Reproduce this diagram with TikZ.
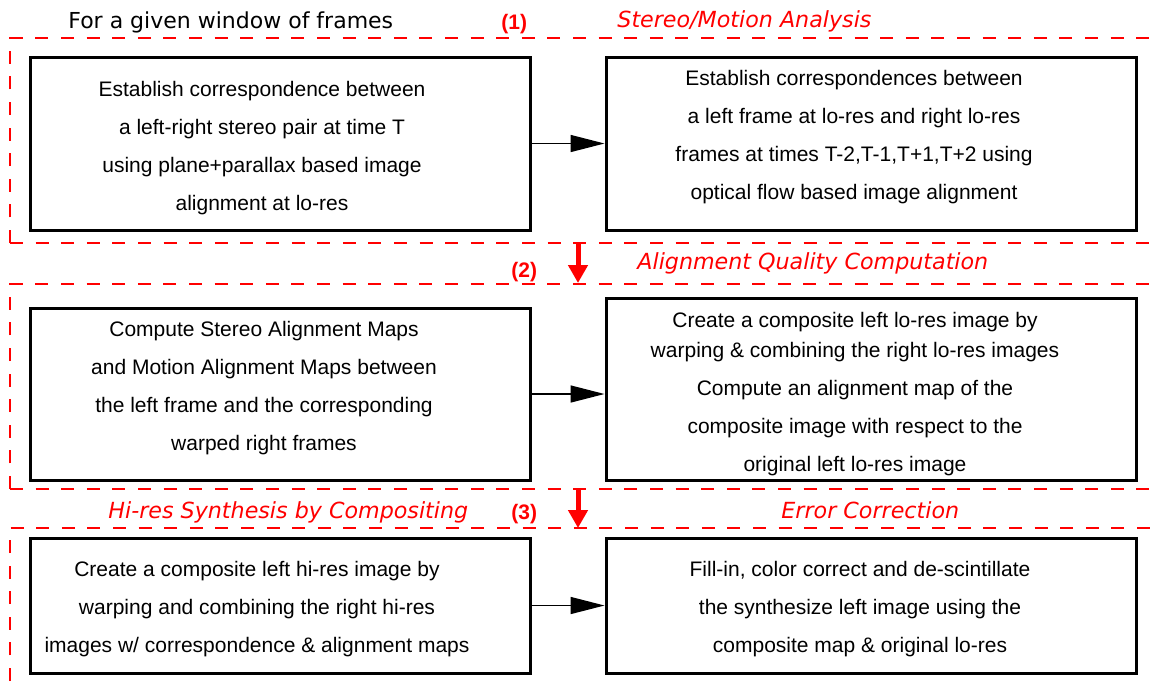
\documentclass[tikz,border=0pt]{standalone}
\usepackage{fontspec}
\setmainfont{Liberation Sans}
\newfontfamily\humfont{DejaVu Sans}
\usepackage{xcolor}
\usetikzlibrary{arrows.meta, positioning, fit}
\definecolor{framered}{RGB}{255,0,0}

\begin{document}
\begin{tikzpicture}[
  x=0.5pt, y=-0.5pt,
  procbox/.style={rectangle, draw=black, line width=1.5pt, inner sep=0pt},
  proctext/.style={align=center, font=\fontsize{10.5}{19}\selectfont, inner sep=0pt},
  frame/.style={draw=framered, line width=1pt, dash pattern=on 6.5pt off 6.3pt},
  arr/.style={-{Triangle[length=17pt, width=8.5pt]}, line width=0.75pt, draw=black},
  redarr/.style={-{Triangle[length=9pt, width=9.5pt]}, line width=2.5pt, draw=framered},
  stage/.style={font=\humfont\itshape\fontsize{11.1}{13}\selectfont, text=framered,
    inner sep=0pt, anchor=base west},
  num/.style={font=\bfseries\fontsize{10.5}{12}\selectfont, text=framered,
    inner sep=0pt, anchor=base west}
]
\useasboundingbox (0,0) rectangle (1151,681);

% dashed frames, open to the right
\draw[frame] (10,243) -- (10,38) -- (1151,38);
\draw[frame] (10,243) -- (1151,243);
\draw[frame] (10,489) -- (10,284) -- (1151,284);
\draw[frame] (10,489) -- (1151,489);
\draw[frame] (10,681) -- (10,528) -- (1151,528);

% headings
\node[inner sep=0pt, anchor=base west, font=\humfont\fontsize{11}{13}\selectfont]
  (title) at (68,28) {For a given window of frames};
\node[num] (n1) at (501,29) {(1)};
\node[stage] (h1) at (617,27) {Stereo/Motion Analysis};
\node[num] (n2) at (511,277) {(2)};
\node[stage] (h2) at (637,269) {Alignment Quality Computation};
\node[stage] (h3) at (108,518) {Hi-res Synthesis by Compositing};
\node[num] (n3) at (511,519) {(3)};
\node[stage] (h4) at (781,518) {Error Correction};

% process boxes
\node[procbox, fit={(30,57) (530,230)}] (stereo) {};
\node[procbox, fit={(606,57) (1136,230)}] (motion) {};
\node[procbox, fit={(30,308) (530,480)}] (maps) {};
\node[procbox, fit={(606,298) (1136,480)}] (compo) {};
\node[procbox, fit={(30,538) (530,673)}] (hires) {};
\node[procbox, fit={(606,538) (1136,673)}] (fixup) {};

\node[proctext] (t1) at (262,148)
  {Establish correspondence between\\
   a left-right stereo pair at time T\\
   using plane+parallax based image\\
   alignment at lo-res};
\node[proctext] (t2) at (854,137)
  {Establish correspondences between\\
   a left frame at lo-res and right lo-res\\
   frames at times T-2,T-1,T+1,T+2 using\\
   optical flow based image alignment};
\node[proctext] (t3) at (264,388)
  {Compute Stereo Alignment Maps\\
   and Motion Alignment Maps between\\
   the left frame and the corresponding\\
   warped right frames};
\node[proctext] (t4) at (855,394)
  {Create a composite left lo-res image by\\[-4pt]
   warping \& combining the right lo-res images\\
   Compute an alignment map of the\\
   composite image with respect to the\\
   original left lo-res image};
\node[proctext] (t5) at (257,609)
  {Create a composite left hi-res image by\\
   warping and combining the right hi-res\\
   images w/ correspondence \& alignment maps};
\node[proctext] (t6) at (860,609)
  {Fill-in, color correct and de-scintillate\\
   the synthesize left image using the\\
   composite map \& original lo-res};

% connectors
\draw[arr] (stereo.east) -- (stereo.east -| motion.west);
\draw[arr] (maps.east) -- (maps.east -| compo.west);
\draw[arr] (hires.east) -- (hires.east -| fixup.west);

\coordinate (d1) at (578,242);
\coordinate (d2) at (578,283);
\coordinate (d3) at (578,489);
\coordinate (d4) at (578,528);
\draw[redarr] (d1) -- (d2);
\draw[redarr] (d3) -- (d4);
\end{tikzpicture}
\end{document}
